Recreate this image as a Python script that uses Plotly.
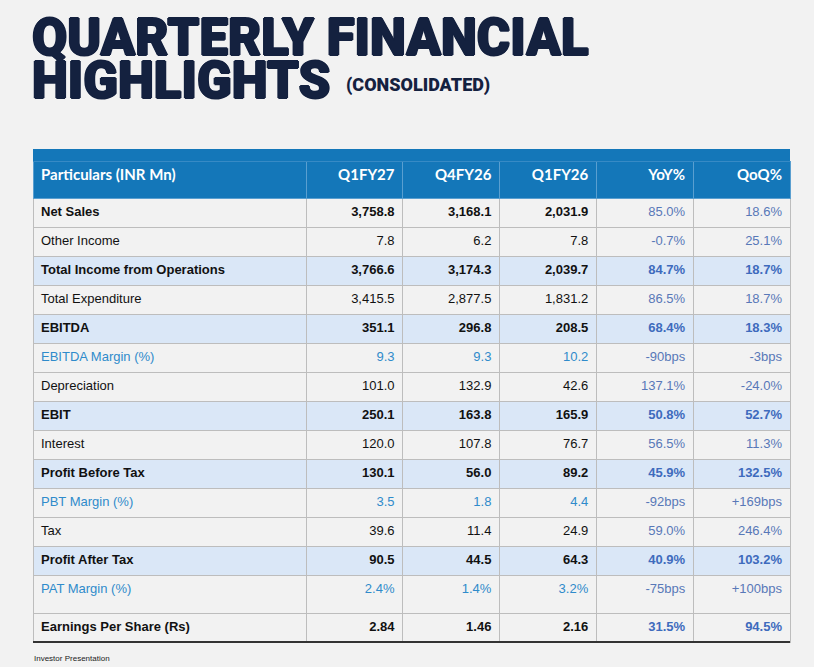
import plotly.graph_objects as go

# === Table data (INR Mn) ===
columns = ["Particulars (INR Mn)", "Q1FY27", "Q4FY26", "Q1FY26", "YoY%", "QoQ%"]
particulars = [
    "Net Sales", "Other Income", "Total Income from Operations", "Total Expenditure",
    "EBITDA", "EBITDA Margin (%)", "Depreciation", "EBIT", "Interest",
    "Profit Before Tax", "PBT Margin (%)", "Tax", "Profit After Tax",
    "PAT Margin (%)", "Earnings Per Share (Rs)",
]
q1fy27 = ["3,758.8", "7.8", "3,766.6", "3,415.5", "351.1", "9.3", "101.0", "250.1", "120.0",
          "130.1", "3.5", "39.6", "90.5", "2.4%", "2.84"]
q4fy26 = ["3,168.1", "6.2", "3,174.3", "2,877.5", "296.8", "9.3", "132.9", "163.8", "107.8",
          "56.0", "1.8", "11.4", "44.5", "1.4%", "1.46"]
q1fy26 = ["2,031.9", "7.8", "2,039.7", "1,831.2", "208.5", "10.2", "42.6", "165.9", "76.7",
          "89.2", "4.4", "24.9", "64.3", "3.2%", "2.16"]
yoy = ["85.0%", "-0.7%", "84.7%", "86.5%", "68.4%", "-90bps", "137.1%", "50.8%", "56.5%",
       "45.9%", "-92bps", "59.0%", "40.9%", "-75bps", "31.5%"]
qoq = ["18.6%", "25.1%", "18.7%", "18.7%", "18.3%", "-3bps", "-24.0%", "52.7%", "11.3%",
       "132.5%", "+169bps", "246.4%", "103.2%", "+100bps", "94.5%"]

bold_rows = {"Net Sales", "Total Income from Operations", "EBITDA", "EBIT", "Profit Before Tax",
             "Profit After Tax", "Earnings Per Share (Rs)"}
shaded_rows = {"Total Income from Operations", "EBITDA", "EBIT", "Profit Before Tax", "Profit After Tax"}
margin_rows = {"EBITDA Margin (%)", "PBT Margin (%)", "PAT Margin (%)"}

# === Styling ===
W, H = 814, 667
BG = "#f2f2f2"
HEAD = "#1477b9"
SHADE = "#dae7f7"
GRID = "#bdbdbd"
NAVY = "#14213f"
MARGIN_BLUE = "#2f8bcb"
CHANGE_BLUE = "#5878b8"
CHANGE_BOLD = "#3e6bbd"
BODY_FONT = "Liberation Sans, Arial"
FS = 13

col_px = [274, 96, 97, 97, 97, 97]
x0, x1 = 33, 790
ALIGN = ["left"] + ["right"] * 5
row_h = [29] * 13 + [38] + [29]
band_top, table_top, head_h = 149, 161, 37


def px_x(v):
    return v / W


def px_y(v):
    return 1 - v / H


def cell_style(i, c):
    n = particulars[i]
    if c < 4:
        b = n in bold_rows
        color = MARGIN_BLUE if n in margin_rows else "#111111"
    else:
        b = n in shaded_rows or n == "Earnings Per Share (Rs)"
        color = CHANGE_BOLD if b else CHANGE_BLUE
    return (700 if b else 400), color, (SHADE if n in shaded_rows else BG)


def block(idx, flat=False):
    # rows idx as one table section; bold is set per column (same for every row in idx)
    cols = [particulars, q1fy27, q4fy26, q1fy26, yoy, qoq]
    vals = [[col[i] for i in idx] for col in cols]
    colors = [[cell_style(i, c)[1] for i in idx] for c in range(6)]
    fills = [[cell_style(i, c)[2] for i in idx] for c in range(6)]
    weights = [cell_style(idx[0], c)[0] for c in range(6)]
    if flat:
        vals = [v[0] for v in vals]
        colors = [v[0] for v in colors]
        fills = [v[0] for v in fills]
    return dict(
        values=vals,
        height=row_h[idx[0]],
        fill_color=fills,
        line=dict(color=GRID, width=1),
        font=dict(family=BODY_FONT, size=FS, color=colors, weight=weights),
        align=ALIGN,
    )


def row_top(i):
    return table_top + head_h + sum(row_h[:i])


fig = go.Figure()

# column titles + Net Sales
fig.add_trace(go.Table(
    domain=dict(x=[px_x(x0), px_x(x1)], y=[px_y(row_top(1) + 1), px_y(table_top)]),
    columnwidth=col_px,
    header=dict(
        values=columns,
        height=head_h,
        fill_color=HEAD,
        line=dict(color="#5a9fd0", width=1),
        font=dict(family="Lato, Open Sans, sans-serif", size=15, color="white", weight=700),
        align=ALIGN,
    ),
    cells=block([0]),
))

# each section: first row drawn as the section "header", the rest as its cells
sections = [([1], [2]), ([3], [4]), ([5], [6]), ([7], [8]), ([9], [10, 11]), ([12], [13])]
for head_rows, body_rows in sections:
    top = row_top(head_rows[0])
    bottom = row_top(body_rows[-1] + 1)
    fig.add_trace(go.Table(
        domain=dict(x=[px_x(x0), px_x(x1)], y=[px_y(bottom + 1), px_y(top)]),
        columnwidth=col_px,
        header=block(head_rows, flat=True),
        cells=block(body_rows),
    ))

# Earnings Per Share, with a hairline empty body
fig.add_trace(go.Table(
    domain=dict(x=[px_x(x0), px_x(x1)], y=[px_y(row_top(15) + 2), px_y(row_top(14))]),
    columnwidth=col_px,
    header=block([14], flat=True),
    cells=dict(values=[[""]] * 6, height=1, fill_color=BG, line=dict(color=BG, width=0)),
))

# top strip of the blue header band
fig.add_shape(type="rect", xref="paper", yref="paper", layer="above",
              x0=px_x(x0), x1=px_x(x1), y0=px_y(table_top + 0.5), y1=px_y(band_top),
              line=dict(width=0), fillcolor=HEAD)

# thick rule under the table
fig.add_shape(type="line", xref="paper", yref="paper", layer="above",
              x0=px_x(x0), x1=px_x(x1), y0=px_y(row_top(15)), y1=px_y(row_top(15)),
              line=dict(color="#333333", width=2))

heavy = f"1px 0px 0px {NAVY}, -1px 0px 0px {NAVY}, 0px 1px 0px {NAVY}, 0px -1px 0px {NAVY}"
fig.add_annotation(text="QUARTERLY FINANCIAL", xref="paper", yref="paper",
                   x=px_x(30), y=px_y(6), xanchor="left", yanchor="top", showarrow=False,
                   font=dict(family="Roboto", size=51, color=NAVY, weight=900, shadow=heavy))
fig.add_annotation(text="HIGHLIGHTS", xref="paper", yref="paper",
                   x=px_x(30), y=px_y(49), xanchor="left", yanchor="top", showarrow=False,
                   font=dict(family="Roboto", size=51, color=NAVY, weight=900, shadow=heavy))
fig.add_annotation(text="(CONSOLIDATED)", xref="paper", yref="paper",
                   x=px_x(344), y=px_y(98), xanchor="left", yanchor="bottom", showarrow=False,
                   font=dict(family="Roboto", size=18, color=NAVY, weight=900))
fig.add_annotation(text="Investor Presentation", xref="paper", yref="paper",
                   x=px_x(32), y=px_y(665), xanchor="left", yanchor="bottom", showarrow=False,
                   font=dict(family=BODY_FONT, size=8, color="#222222"))

fig.update_layout(
    width=W, height=H,
    margin=dict(l=0, r=0, t=0, b=0),
    paper_bgcolor=BG, plot_bgcolor=BG,
)

fig.write_html("out.html", config={"displayModeBar": False},
               post_script="document.body.style.margin='0px';")
